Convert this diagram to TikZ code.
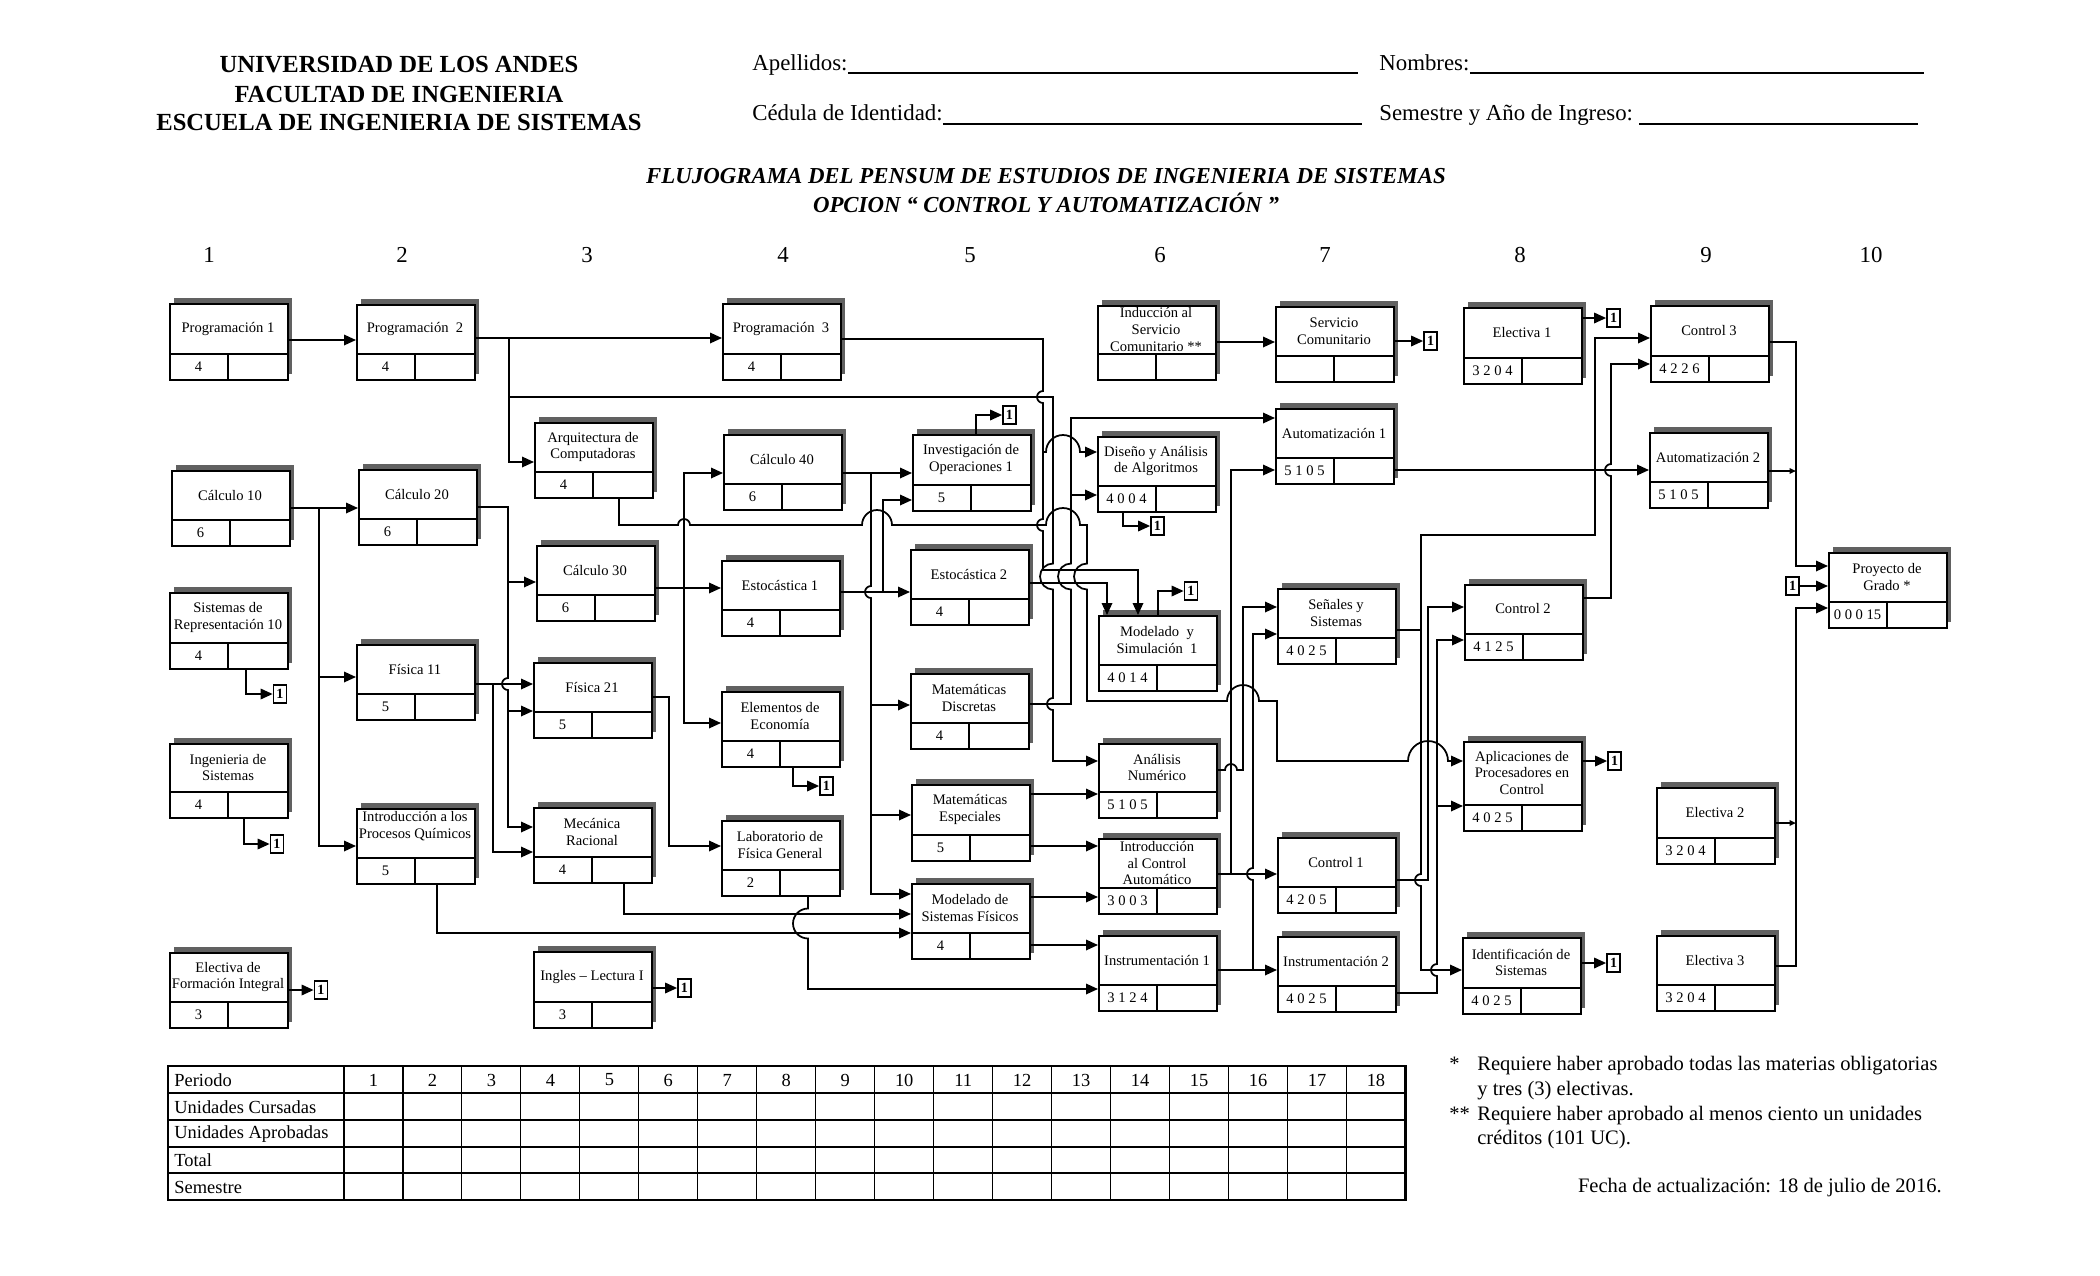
\documentclass[tikz,border=0pt]{standalone}
\usepackage{fontspec}
\setmainfont{Liberation Serif}
\usetikzlibrary{arrows.meta}
\tikzset{
 cbox/.style={draw, fill=white, line width=1.1pt, minimum width=2.36cm, inner sep=0pt},
 ctitle/.style={align=center, font=\fontsize{8.3}{9.4}\selectfont, inner sep=0pt},
 cnum/.style={font=\fontsize{8.3}{9.4}\selectfont, inner sep=0pt},
 onebox/.style={draw, line width=1pt, fill=white, minimum width=0.26cm, minimum height=0.36cm, inner sep=0pt, font=\bfseries\fontsize{8}{9}\selectfont},
 conn/.style={line width=1pt},
 arr/.style={-{Triangle[length=0.24cm,width=0.21cm]}},
 smallarr/.style={-{Triangle[length=0.13cm,width=0.11cm]}},
 shadowc/.style={fill=black!62},
 hdrb/.style={font=\bfseries\fontsize{14}{16}\selectfont, inner sep=0pt},
 hdr/.style={font=\fontsize{13}{15}\selectfont, inner sep=0pt},
 ttl/.style={font=\bfseries\itshape\fontsize{13}{15}\selectfont, inner sep=0pt},
 coln/.style={font=\fontsize{13}{15}\selectfont, inner sep=0pt},
 tabtxt/.style={font=\fontsize{10.5}{12}\selectfont, inner sep=0pt},
 notetxt/.style={font=\fontsize{11.7}{14}\selectfont, inner sep=0pt},
}
\newcommand\course[7]{%
 \fill[shadowc] ({#2+5},{#3-5}) rectangle ({#2+123},{#3+#4-5});
 \node[cbox,minimum height=#4*0.02cm,anchor=north west] (#1) at (#2,#3) {};
 \draw[line width=1.1pt] (#2,{#3+#4-25}) -- ({#2+118},{#3+#4-25}) ({#2+59},{#3+#4-25}) -- ({#2+59},{#3+#4});
 \node[ctitle] (#1-t) at ({#2+59},{#3+(#4-25)/2+#7}) {#5};
 \node[cnum] (#1-n) at ({#2+29.5},{#3+#4-12.5}) {#6};
}
\newcommand\hopH[3]{-- ({#1-#3},#2) arc[start angle=180,end angle=0,radius=#3*0.02cm]}
\newcommand\hopD[3]{-- (#1,{#2-#3}) arc[start angle=90,end angle=270,radius=#3*0.02cm]}
\newcommand\hopU[3]{-- (#1,{#2+#3}) arc[start angle=270,end angle=90,radius=#3*0.02cm]}
\begin{document}
\begin{tikzpicture}[x=0.02cm,y=-0.02cm]
\useasboundingbox (0,0) rectangle (2100,1275);
\fill[white] (0,0) rectangle (2100,1275);

% header
\node[hdrb] (u1) at (399,65) {UNIVERSIDAD DE LOS ANDES};
\node[hdrb] (u2) at (399,94) {FACULTAD DE INGENIERIA};
\node[hdrb] (u3) at (399,122) {ESCUELA DE INGENIERIA DE SISTEMAS};
\node[hdr,anchor=base west] (ape) at (752,70) {Apellidos:};
\draw[line width=0.9pt] (ape.base east |- 0,73) -- (1358,73);
\node[hdr,anchor=base west] (nom) at (1379,70) {Nombres:};
\draw[line width=0.9pt] (nom.base east |- 0,73) -- (1924,73);
\node[hdr,anchor=base west] (ced) at (752,120) {Cédula de Identidad:};
\draw[line width=0.9pt] (ced.base east |- 0,124) -- (1362,124);
\node[hdr,anchor=base west] (sem) at (1379,120) {Semestre y Año de Ingreso:};
\draw[line width=0.9pt] (1639,124) -- (1918,124);
\node[ttl] (t1) at (1046,176) {FLUJOGRAMA DEL PENSUM DE ESTUDIOS DE INGENIERIA DE SISTEMAS};
\node[ttl] (t2) at (1046,203) {OPCION “ CONTROL Y AUTOMATIZACIÓN ”};

% column numbers
\node[coln] (c1) at (209,255) {1};
\node[coln] (c2) at (402,255) {2};
\node[coln] (c3) at (587,255) {3};
\node[coln] (c4) at (783,255) {4};
\node[coln] (c5) at (970,255) {5};
\node[coln] (c6) at (1160,255) {6};
\node[coln] (c7) at (1325,255) {7};
\node[coln] (c8) at (1520,255) {8};
\node[coln] (c9) at (1706,255) {9};
\node[coln] (c10) at (1871,255) {10};

% courses
\course{prog1}{169}{303}{76}{Programación 1}{4}{0}
\course{prog2}{356}{304}{75}{Programación\ \ 2}{4}{0}
\course{calc10}{171}{470}{75}{Cálculo 10}{6}{0}
\course{calc20}{358}{469}{75}{Cálculo 20}{6}{0}
\course{arq}{534}{422}{75}{Arquitectura de\\Computadoras}{4}{0}
\course{calc30}{536}{545}{75}{Cálculo 30}{6}{0}
\course{sisrep}{169}{592}{76}{Sistemas de\\Representación 10}{4}{0}
\course{fis11}{356}{644}{75}{Física 11}{5}{0}
\course{fis21}{533}{662}{75}{Física 21}{5}{0}
\course{ingsis}{169}{743}{74}{Ingenieria de\\Sistemas}{4}{0}
\course{iproq}{356}{808}{75}{Introducción a los\\Procesos Químicos}{5}{(-7)}
\course{mecrac}{533}{807}{75}{Mecánica\\Racional}{4}{0}
\course{efi}{169}{952}{75}{Electiva de\\Formación Integral}{3}{0}
\course{ingles}{533}{951}{76}{Ingles – Lectura I}{3}{0}
\course{prog3}{722}{303}{76}{Programación\ \ 3}{4}{0}
\course{calc40}{723}{434}{75}{Cálculo 40}{6}{0}
\course{esto1}{721}{560}{75}{Estocástica 1}{4}{0}
\course{eleco}{721}{691}{75}{Elementos de\\Economía}{4}{0}
\course{labfis}{721}{820}{75}{Laboratorio de\\Física General}{2}{0}
\course{invop}{912}{434}{76}{Investigación de\\Operaciones 1}{5}{0}
\course{esto2}{910}{549}{75}{Estocástica 2}{4}{0}
\course{matdis}{910}{673}{75}{Matemáticas\\Discretas}{4}{0}
\course{matesp}{911}{784}{76}{Matemáticas\\Especiales}{5}{0}
\course{modsf}{911}{883}{75}{Modelado de\\Sistemas Físicos}{4}{0}
\course{indsc}{1097}{305}{74}{Inducción al\\Servicio\\Comunitario **}{}{0}
\course{diseno}{1097}{436}{75}{Diseño y Análisis\\de Algoritmos}{4 0 0 4}{0}
\course{modsim}{1098}{615}{75}{Modelado\ \ y\\Simulación\ \ 1}{4 0 1 4}{0}
\course{anum}{1098}{743}{74}{Análisis\\Numérico}{5 1 0 5}{0}
\course{ica}{1098}{838}{75}{Introducción\\al Control\\Automático}{3 0 0 3}{0}
\course{inst1}{1098}{935}{75}{Instrumentación 1}{3 1 2 4}{0}
\course{servc}{1275}{306}{75}{Servicio\\Comunitario}{}{0}
\course{auto1}{1275}{408}{75}{Automatización 1}{5 1 0 5}{0}
\course{senales}{1277}{588}{75}{Señales y\\Sistemas}{4 0 2 5}{0}
\course{ctrl1}{1277}{837}{75}{Control 1}{4 2 0 5}{0}
\course{inst2}{1277}{936}{75}{Instrumentación 2}{4 0 2 5}{0}
\course{elec1}{1463}{307}{76}{Electiva 1}{3 2 0 4}{0}
\course{ctrl2}{1464}{584}{75}{Control 2}{4 1 2 5}{0}
\course{apc}{1463}{741}{89}{Aplicaciones de\\Procesadores en\\Control}{4 0 2 5}{0}
\course{idsis}{1462}{937}{76}{Identificación de\\Sistemas}{4 0 2 5}{0}
\course{ctrl3}{1650}{305}{76}{Control 3}{4 2 2 6}{0}
\course{auto2}{1649}{432}{75}{Automatización 2}{5 1 0 5}{0}
\course{elec2}{1656}{787}{76}{Electiva 2}{3 2 0 4}{0}
\course{elec3}{1656}{935}{75}{Electiva 3}{3 2 0 4}{0}
\course{pgrado}{1828}{552}{75}{Proyecto de\\Grado *}{0 0 0 15}{0}

% "1" boxes
\node[onebox] (b1) at (280,694) {1};
\node[onebox] (b2) at (277,844) {1};
\node[onebox] (b3) at (321,990) {1};
\node[onebox] (b4) at (684.5,988) {1};
\node[onebox] (b5) at (1009.5,415) {1};
\node[onebox] (b6) at (826.5,786) {1};
\node[onebox] (b7) at (1157.5,526) {1};
\node[onebox] (b8) at (1191,591) {1};
\node[onebox] (b9) at (1430.5,341) {1};
\node[onebox] (b10) at (1613.5,318) {1};
\node[onebox] (b11) at (1614.5,761) {1};
\node[onebox] (b12) at (1613.5,963) {1};
\node[onebox] (b13) at (1792.5,586) {1};

% junction coordinates
\coordinate (jp2) at (509,338);
\coordinate (jp2b) at (509,397);
\coordinate (jp3) at (1043,452);
\coordinate (jc10) at (319,508);
\coordinate (jc10b) at (319,677);
\coordinate (jc20) at (508,582);
\coordinate (jc20b) at (508,711);
\coordinate (jf11) at (493,684);
\coordinate (jc30) at (684,588);
\coordinate (jc40) at (871,473);
\coordinate (jc40b) at (871,705);
\coordinate (jc40c) at (871,815);
\coordinate (je1) at (883,592);
\coordinate (jmd) at (1071,495);
\coordinate (jica) at (1231,874);
\coordinate (jin1) at (1253,970);
\coordinate (jsn) at (1421,630);
\coordinate (jin2) at (1437,806);

% connectors: columns 1-3
\draw[conn,arr] (prog1.east |- 0,340) -- (prog2.west |- 0,340);
\draw[conn,arr] (prog2.east |- 0,338) -- (prog3.west |- 0,338);
\draw[conn,arr] (jp2) -- (509,462) -- (arq.west |- 0,462);
\draw[conn,arr] (jp2b) -- (1053,397) \hopD{1053}{576.5}{13} \hopD{1053}{704}{6} -- (1053,761) -- (anum.west |- 0,761);
\draw[conn,arr] (calc10.east |- 0,508) -- (calc20.west |- 0,508);
\draw[conn,arr] (jc10) -- (319,846) -- (iproq.west |- 0,846);
\draw[conn,arr] (jc10b) -- (fis11.west |- 0,677);
\draw[conn,arr] (calc20.east |- 0,507) -- (508,507) -- (508,582) -- (calc30.west |- 0,582);
\draw[conn,arr] (jc20) \hopD{508}{684}{6} -- (508,827) -- (mecrac.west |- 0,827);
\draw[conn,arr] (jc20b) -- (fis21.west |- 0,711);
\draw[conn,arr] (fis11.east |- 0,684) -- (fis21.west |- 0,684);
\draw[conn,arr] (jf11) -- (493,852) -- (mecrac.west |- 0,852);
\draw[conn,arr] (arq.south -| 619,0) -- (619,525) \hopH{684}{525}{6} \hopH{877}{525}{15} \hopH{1063}{525}{17} -- (1087,525) \hopD{1087}{576.5}{13} -- (1087,701) \hopH{1243}{701}{16} -- (1277,701) -- (1277,761) \hopH{1428}{761}{20} -- (apc.west |- 0,761);
\draw[conn,arr] (calc30.east |- 0,588) -- (esto1.west |- 0,588);
\draw[conn,arr] (jc30) -- (684,473) -- (calc40.west |- 0,473);
\draw[conn,arr] (jc30) -- (684,723) -- (eleco.west |- 0,723);
\draw[conn,arr] (fis21.east |- 0,697) -- (669,697) -- (669,846) -- (labfis.west |- 0,846);
\draw[conn,arr] (mecrac.south -| 624,0) -- (624,914) -- (modsf.west |- 0,914);
\draw[conn,arr] (iproq.south -| 437,0) -- (437,933) -- (modsf.west |- 0,933);
\draw[conn,arr] (labfis.south -| 808,0) \hopD{808}{923.5}{15} -- (808,989) -- (inst1.west |- 0,989);

% columns 4-6
\draw[conn,arr] (prog3.east |- 0,339) -- (1043,339) \hopD{1043}{397}{6} \hopD{1043}{525}{6} -- (1043,570) -- (1138,570) -- (modsim.north -| 1138,0);
\draw[conn,arr] (jp3) \hopH{1063}{452}{17} -- (diseno.west |- 0,452);
\draw[conn,arr] (calc40.east |- 0,473) -- (invop.west |- 0,473);
\draw[conn,arr] (jc40) \hopD{871}{592}{6} -- (871,894) -- (modsf.west |- 0,894);
\draw[conn,arr] (jc40b) -- (matdis.west |- 0,705);
\draw[conn,arr] (jc40c) -- (matesp.west |- 0,815);
\draw[conn,arr] (esto1.east |- 0,592) -- (esto2.west |- 0,592);
\draw[conn,arr] (je1) -- (883,500) -- (invop.west |- 0,500);
\draw[conn,arr] (invop.north -| 976,0) -- (976,415) -- (b5.west |- 0,415);
\draw[conn,arr] (esto2.east |- 0,583) -- (1107,583) -- (modsim.north -| 1107,0);
\draw[conn,arr] (matdis.east |- 0,704) -- (1071,704) \hopU{1071}{576.5}{13} -- (1071,418) -- (auto1.west |- 0,418);
\draw[conn,arr] (jmd) -- (diseno.west |- 0,495);
\draw[conn,arr] (matesp.east |- 0,794) -- (anum.west |- 0,794);
\draw[conn,arr] (matesp.east |- 0,846) -- (ica.west |- 0,846);
\draw[conn,arr] (modsf.east |- 0,897) -- (ica.west |- 0,897);
\draw[conn,arr] (modsf.east |- 0,945) -- (inst1.west |- 0,945);
\draw[conn,arr] (diseno.south -| 1123,0) -- (1123,526) -- (b7.west |- 0,526);
\draw[conn,arr] (modsim.north -| 1158,0) -- (1158,591) -- (b8.west |- 0,591);
\draw[conn,arr] (indsc.east |- 0,342) -- (servc.west |- 0,342);
\draw[conn,arr] (servc.east |- 0,341) -- (b9.west |- 0,341);

% columns 6-8
\draw[conn,arr] (ica.east |- 0,874) -- (1231,874) -- (1231,470) -- (auto1.west |- 0,470);
\draw[conn,arr] (jica) -- (ctrl1.west |- 0,874);
\draw[conn,arr] (anum.east |- 0,770) \hopH{1231}{770}{6} -- (1243,770) -- (1243,607) -- (senales.west |- 0,607);
\draw[conn,arr] (inst1.east |- 0,970) -- (inst2.west |- 0,970);
\draw[conn,arr] (jin1) \hopU{1253}{874}{6} -- (1253,634) -- (senales.west |- 0,634);
\draw[conn,arr] (senales.east |- 0,630) -- (1421,630) -- (1421,535) -- (1595,535) -- (1595,338) -- (ctrl3.west |- 0,338);
\draw[conn,arr] (jsn) \hopD{1421}{880}{6} -- (1421,970) -- (idsis.west |- 0,970);
\draw[conn,arr] (ctrl1.east |- 0,880) -- (1428,880) -- (1428,607) -- (ctrl2.west |- 0,607);
\draw[conn,arr] (inst2.east |- 0,993) -- (1437,993) \hopU{1437}{970}{6} -- (1437,640) -- (ctrl2.west |- 0,640);
\draw[conn,arr] (jin2) -- (apc.west |- 0,806);
\draw[conn,arr] (ctrl2.east |- 0,598) -- (1611,598) \hopU{1611}{470}{6} -- (1611,364) -- (ctrl3.west |- 0,364);
\draw[conn,arr] (auto1.east |- 0,470) -- (auto2.west |- 0,470);

% columns 9-10
\draw[conn,arr] (ctrl3.east |- 0,342) -- (1796,342) -- (1796,566) -- (pgrado.west |- 0,566);
\draw[conn,smallarr] (auto2.east |- 0,471) -- (1796,471);
\draw[conn,smallarr] (elec2.east |- 0,823) -- (1796,823);
\draw[conn,arr] (elec3.east |- 0,966) -- (1796,966) -- (1796,608) -- (pgrado.west |- 0,608);
\draw[conn,arr] (b13.east |- 0,586) -- (pgrado.west |- 0,586);

% to "1" boxes
\draw[conn,arr] (elec1.east |- 0,318) -- (b10.west |- 0,318);
\draw[conn,arr] (apc.east |- 0,761) -- (b11.west |- 0,761);
\draw[conn,arr] (idsis.east |- 0,963) -- (b12.west |- 0,963);
\draw[conn,arr] (sisrep.south -| 246,0) -- (246,694) -- (b1.west |- 0,694);
\draw[conn,arr] (ingsis.south -| 244,0) -- (244,844) -- (b2.west |- 0,844);
\draw[conn,arr] (efi.east |- 0,990) -- (b3.west |- 0,990);
\draw[conn,arr] (ingles.east |- 0,988) -- (b4.west |- 0,988);
\draw[conn,arr] (eleco.south -| 793,0) -- (793,786) -- (b6.west |- 0,786);

% table
\draw[line width=1.3pt] (168,1066) rectangle (1405.5,1200);
\foreach \yy in {1093,1120,1147,1173} \draw[line width=1.3pt] (168,\yy) -- (1405.5,\yy);
\draw[line width=1pt] (344,1066) -- (344,1200);
\foreach \i in {1,...,17} \draw[line width=0.6pt] ({344+\i*58.97},1066) -- ({344+\i*58.97},1200);
\foreach \i in {1,...,18} \node[tabtxt] (tc\i) at ({344+(\i-0.5)*58.97},1080) {\i};
\node[tabtxt,anchor=west] (r1) at (174,1080) {Periodo};
\node[tabtxt,anchor=west] (r2) at (174,1107) {Unidades Cursadas};
\node[tabtxt,anchor=west] (r3) at (174,1134) {Unidades Aprobadas};
\node[tabtxt,anchor=west] (r4) at (174,1160) {Total};
\node[tabtxt,anchor=west] (r5) at (174,1187) {Semestre};

% notes
\node[notetxt,anchor=base west] (n1s) at (1449,1070) {*};
\node[notetxt,anchor=base west] (n1) at (1477,1070) {Requiere haber aprobado todas las materias obligatorias};
\node[notetxt,anchor=base west] (n2) at (1477,1095) {y tres (3) electivas.};
\node[notetxt,anchor=base west] (n3s) at (1449,1120) {**};
\node[notetxt,anchor=base west] (n3) at (1477,1120) {Requiere haber aprobado al menos ciento un unidades};
\node[notetxt,anchor=base west] (n4) at (1477,1144) {créditos (101 UC).};
\node[notetxt,anchor=base east] (n5) at (1942,1192) {Fecha de actualización: 18 de julio de 2016.};
\end{tikzpicture}
\end{document}
